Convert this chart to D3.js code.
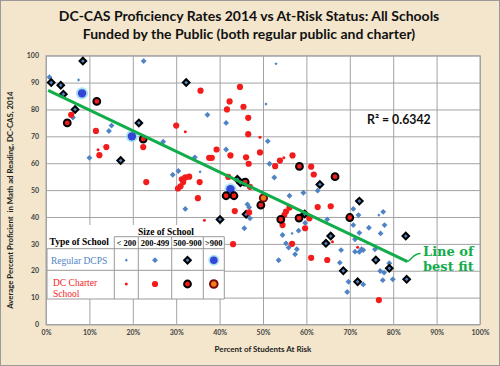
<!DOCTYPE html>
<html>
<head>
<meta charset="utf-8">
<script src="https://cdn.jsdelivr.net/npm/d3@7"></script>
<style>
body { margin: 0; background: #fff; }
text { font-family: Lato, "Open Sans", sans-serif; }
.serif { font-family: "Liberation Serif", "DejaVu Serif", serif; }
</style>
</head>
<body>
<svg width="500" height="366"></svg>
<script>
const titleLines = [
    "DC-CAS Proficiency Rates 2014 vs At-Risk Status: All Schools",
    "Funded by the Public (both regular public and charter)"
];
const xLabel = "Percent of Students At Risk";
const yLabel = "Average Percent Proficient  in Math ad Reading, DC-CAS, 2014";
const r2Label = "R² = 0.6342";
const fitLabel = ["Line of", "best fit"];

const xTicks = [0, 10, 20, 30, 40, 50, 60, 70, 80, 90, 100];
const yTicks = [0, 10, 20, 30, 40, 50, 60, 70, 80, 90, 100];

// [percent at risk, percent proficient]
const dcpsSmall = [[7.5, 91], [53, 97], [50.7, 82], [35.5, 56.8], [76.7, 40.7], [56.7, 33.9]];
const dcpsMid = [
    [0.8, 92], [6.2, 77], [10, 62], [14.5, 72], [15.1, 74], [22.5, 98], [27, 68], [29.2, 55.7],
    [30.5, 57.1], [32.1, 43], [34.3, 62.2], [37.2, 78], [41.5, 75], [41.5, 65.1], [45.7, 35.8],
    [46.4, 44.7], [46.8, 43.6], [47, 39.5], [51.1, 68.2], [51.5, 59.8], [52.6, 54.7], [53.6, 23.9],
    [54.5, 33.3], [55.3, 30.2], [55.9, 28.6], [56.1, 47.9], [57.4, 26.1], [57.8, 28], [58.2, 34.9],
    [59.3, 49], [59.7, 37.8], [62.6, 49.8], [64.8, 39.1], [67.7, 23], [68, 27.7], [69.4, 12.1],
    [69.7, 15.9], [70.8, 43], [70.8, 37], [71.2, 31.7], [71.2, 27.1], [72, 40.7], [72.2, 34.1],
    [72.2, 27], [72.7, 28], [73.1, 27.7], [73.1, 14.9], [74.4, 36], [75.8, 28], [77, 19.9],
    [77.1, 33.9], [77.6, 16.5], [77.7, 41.9], [77.9, 19.3], [78, 37], [79.1, 22.8], [79.9, 16.8]
];
const dcpsLarge = [
    [1.2, 90], [3.4, 89], [4, 85.7], [6.7, 80], [8.5, 98], [17.2, 61], [21.4, 75], [32.3, 90],
    [40.1, 39.1], [44.1, 54], [44.8, 52.7], [46.1, 41], [59.6, 41.1], [63.1, 52.1], [64.5, 30.2],
    [65.6, 32.9], [68.5, 20], [71.8, 15.9], [72.2, 45.9], [76, 24], [79.1, 20.9], [82.9, 32.9], [83.1, 16.8]
];
const dcpsHuge = [[8.3, 86], [19.8, 70], [42.5, 50.3]];

const charterSmall = [[12, 65], [32.1, 71.7], [49.3, 69.7], [54.8, 62], [36.5, 38.8], [66, 30.8], [71.8, 28.7]];
const charterMid = [
    [5.8, 78], [11.5, 72], [12.3, 63], [13.9, 66], [22.4, 66], [23.1, 53], [30, 74], [30.4, 50.6],
    [31, 51.4], [31.3, 54], [31.6, 53], [32.1, 54.7], [33, 55], [35, 47], [35.4, 53], [35.6, 87],
    [37.6, 62], [38.2, 62], [39.3, 65.1], [41.7, 80], [42.3, 83], [42, 54.9], [42.5, 62.9], [43.1, 29.9],
    [43.5, 42.2], [44.7, 88.4], [45.5, 81], [46.1, 62.2], [46.6, 76.9], [46.6, 70.8], [46.7, 59.8],
    [46.8, 41.7], [47, 51.2], [49.3, 64], [52.8, 58.9], [53.9, 61], [54.5, 37], [54.9, 40.7], [55.3, 42],
    [56.1, 43.5], [56.7, 30], [56.8, 62.9], [59.7, 35.8], [60.7, 39.5], [61.1, 58.7], [61.7, 55.8],
    [61.1, 24.8], [62.6, 43.7], [64.8, 24], [65.6, 44], [76.7, 9.1]
];
const charterLarge = [
    [4.9, 75], [11.7, 83], [22.4, 69], [41.5, 47.9], [43.3, 47.9], [45.9, 53], [49.5, 44.4],
    [54.1, 39.1], [58.3, 39.6], [58.4, 58.8], [66.6, 55], [70, 39.8]
];
const charterHuge = [[50.1, 47.1]];

const fitLine = [[0.5, 87.1], [83.3, 23.4]];

const sizeLabels = ["< 200", "200-499", "500-900", ">900"];
const typeLabels = [["Regular DCPS"], ["DC Charter", "School"]];

const svg = d3.select("svg");
const margin = { left: 46, top: 55.7, right: 20, bottom: 41.5 };
const W = 500, H = 366;

const x = d3.scaleLinear().domain([0, 100]).range([margin.left, W - margin.right]);
const y = d3.scaleLinear().domain([0, 100]).range([H - margin.bottom, margin.top]);

// parchment background
svg.append("rect").attr("x", 0.5).attr("y", 0.5).attr("width", W - 1).attr("height", H - 1)
    .attr("fill", "#f3e6cc").attr("stroke", "#9a9a9a");

svg.append("g").selectAll("text").data(titleLines).join("text")
    .attr("x", 249).attr("y", (d, i) => 21 + i * 17.5)
    .attr("text-anchor", "middle").attr("font-weight", "bold").attr("font-size", 14)
    .attr("fill", "#111").text(d => d);

// plot area
svg.append("rect").attr("x", x(0)).attr("y", y(100)).attr("width", x(100) - x(0)).attr("height", y(0) - y(100))
    .attr("fill", "#fff");

const gridColor = "#a3a3a3";
svg.append("g").attr("transform", `translate(0,${y(0)})`)
    .call(d3.axisBottom(x).tickValues(xTicks).tickSize(-(y(0) - y(100))).tickFormat(d => d + "%"))
    .call(g => g.select(".domain").remove())
    .call(g => g.selectAll("line").attr("stroke", gridColor))
    .call(g => g.selectAll("text").attr("dy", "1.1em").attr("font-size", 7).attr("font-weight", "bold")
        .attr("fill", "#444").attr("font-family", "Lato"));

svg.append("g").attr("transform", `translate(${x(0)},0)`)
    .call(d3.axisLeft(y).tickValues(yTicks).tickSize(-(x(100) - x(0))).tickPadding(7))
    .call(g => g.select(".domain").remove())
    .call(g => g.selectAll("line").attr("stroke", gridColor))
    .call(g => g.selectAll("text").attr("font-size", 7).attr("font-weight", "bold")
        .attr("fill", "#444").attr("font-family", "Lato"));

svg.append("rect").attr("x", x(0)).attr("y", y(100)).attr("width", x(100) - x(0)).attr("height", y(0) - y(100))
    .attr("fill", "none").attr("stroke", gridColor);

// axis titles
svg.append("text").attr("x", 263).attr("y", 352).attr("text-anchor", "middle")
    .attr("font-size", 8).attr("font-weight", "bold").attr("fill", "#222").text(xLabel);
svg.append("text").attr("transform", `translate(13,${(y(0) + y(100)) / 2 + 10}) rotate(-90)`)
    .attr("text-anchor", "middle").attr("font-size", 7.8).attr("font-weight", "bold")
    .attr("fill", "#222").style("white-space", "pre").text(yLabel);

// markers
const blue = "#4f84c4", red = "#f21c1c";
const square = s => d3.symbol(d3.symbolSquare, s)();

function drawDiamonds(data, area, stroke) {
    svg.append("g").selectAll("path").data(data).join("path")
        .attr("d", square(area))
        .attr("transform", d => `translate(${x(d[0])},${y(d[1])}) rotate(45)`)
        .attr("fill", blue)
        .attr("stroke", stroke ? "#000" : "none").attr("stroke-width", stroke ? 2 : 0);
}
function drawHalo(data) {
    const g = svg.append("g").selectAll("g").data(data).join("g")
        .attr("transform", d => `translate(${x(d[0])},${y(d[1])})`);
    g.append("circle").attr("r", 6).attr("fill", "#a6e2f2");
    g.append("circle").attr("r", 4.2).attr("fill", "#3546d6");
}
function drawDots(data, r, fill, stroke) {
    svg.append("g").selectAll("circle").data(data).join("circle")
        .attr("cx", d => x(d[0])).attr("cy", d => y(d[1])).attr("r", r)
        .attr("fill", fill)
        .attr("stroke", stroke || "none").attr("stroke-width", stroke ? 2 : 0);
}

drawDiamonds(dcpsSmall, 5, false);
drawDiamonds(dcpsMid, 17, false);
drawDiamonds(dcpsLarge, 22, true);
drawHalo(dcpsHuge);
drawDots(charterSmall, 1.5, red);
drawDots(charterMid, 3.1, red);
drawDots(charterLarge, 3.4, red, "#000");
drawDots(charterHuge, 3.6, "#f07d1e", "#7a0a0a");

// line of best fit
svg.append("line")
    .attr("x1", x(fitLine[0][0])).attr("y1", y(fitLine[0][1]))
    .attr("x2", x(fitLine[1][0])).attr("y2", y(fitLine[1][1]))
    .attr("stroke", "#12ad4b").attr("stroke-width", 3);

const ex = x(fitLine[1][0]), ey = y(fitLine[1][1]);
svg.append("path")
    .attr("d", `M${ex},${ey} C${ex + 4},${ey - 2} ${ex + 6},${ey - 8} ${ex + 13},${ey - 8}`)
    .attr("fill", "none").attr("stroke", "#12ad4b").attr("stroke-width", 1.5);

svg.append("g").selectAll("text").data(fitLabel).join("text")
    .attr("class", "serif").attr("x", 423).attr("y", (d, i) => 256 + i * 15)
    .attr("font-size", 13).attr("font-weight", "bold").attr("fill", "#12ad4b")
    .style("font-family", "DejaVu Serif").text(d => d);

svg.append("text").attr("x", 367).attr("y", 123.5).attr("font-size", 12.3).attr("font-weight", "bold")
    .attr("fill", "#111").text(r2Label);

// legend table
const colX = [47, 114.3, 138.3, 171.7, 203.3, 224.3];
const rowY = [236.7, 248.7, 270.3, 299];
const lg = svg.append("g");
lg.append("rect").attr("x", colX[0]).attr("y", 225).attr("width", colX[5] - colX[0]).attr("height", rowY[3] - 225)
    .attr("fill", "#fff");
const lineColor = "#9a9a9a";
lg.append("line").attr("x1", colX[1]).attr("x2", colX[5]).attr("y1", rowY[0]).attr("y2", rowY[0]).attr("stroke", lineColor);
rowY.slice(1).forEach(v => lg.append("line").attr("x1", colX[0]).attr("x2", colX[5])
    .attr("y1", v).attr("y2", v).attr("stroke", lineColor));
colX.forEach((v, i) => lg.append("line").attr("x1", v).attr("x2", v)
    .attr("y1", i === 0 ? rowY[1] : rowY[0]).attr("y2", rowY[3]).attr("stroke", lineColor));

lg.append("text").attr("class", "serif").attr("x", 166).attr("y", 234.5).attr("text-anchor", "middle")
    .attr("font-size", 9.5).attr("font-weight", "bold").text("Size of School");
lg.append("text").attr("class", "serif").attr("x", 49.5).attr("y", 245).attr("font-size", 9.5)
    .attr("font-weight", "bold").text("Type of School");
lg.selectAll(".sz").data(sizeLabels).join("text").attr("class", "serif sz")
    .attr("x", (d, i) => (colX[i + 1] + colX[i + 2]) / 2).attr("y", 245.5).attr("text-anchor", "middle")
    .attr("font-size", 8.5).attr("font-weight", "bold").text(d => d);

typeLabels.forEach((lines, r) => {
    lg.append("g").selectAll("text").data(lines).join("text").attr("class", "serif")
        .attr("x", r === 0 ? 51 : 53)
        .attr("y", (d, i) => (r === 0 ? 263.5 : 285.5) + i * 11.5)
        .attr("font-size", 9.5).attr("fill", r === 0 ? blue : red).text(d => d);
});

const cx = i => (colX[i + 1] + colX[i + 2]) / 2;
const rowMid = [260.2, 284];
[[5, false], [17, false], [22, true]].forEach(([a, s], i) => {
    lg.append("path").attr("d", square(a)).attr("transform", `translate(${cx(i)},${rowMid[0]}) rotate(45)`)
        .attr("fill", blue).attr("stroke", s ? "#000" : "none").attr("stroke-width", s ? 2 : 0);
});
lg.append("circle").attr("cx", cx(3)).attr("cy", rowMid[0]).attr("r", 5.5).attr("fill", "#a6e2f2");
lg.append("circle").attr("cx", cx(3)).attr("cy", rowMid[0]).attr("r", 3.8).attr("fill", "#3546d6");
[[1.5, red, null], [3.1, red, null], [3.4, red, "#000"], [3.8, "#f07d1e", "#7a0a0a"]].forEach(([r, f, s], i) => {
    lg.append("circle").attr("cx", cx(i)).attr("cy", rowMid[1]).attr("r", r).attr("fill", f)
        .attr("stroke", s || "none").attr("stroke-width", s ? 2 : 0);
});
</script>
</body>
</html>
